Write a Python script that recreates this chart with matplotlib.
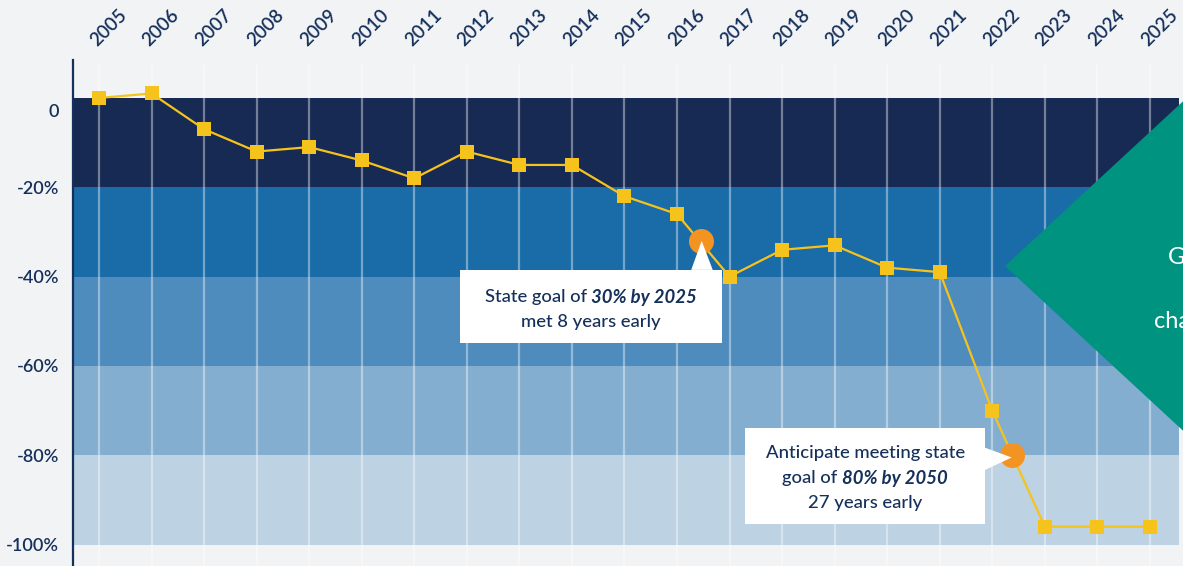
import matplotlib

matplotlib.use("Agg")

import matplotlib.pyplot as plt
from matplotlib.patches import Polygon, Rectangle
from matplotlib.transforms import ScaledTranslation

YEARS = list(range(2005, 2026))
CHANGE = [0, 1, -7, -12, -11, -14, -18, -12, -15, -15, -22, -26, -40, -34, -33, -38, -39, -70, -96, -96, -96]

# goal crossings drawn as orange dots (year, % change)
GOAL_DOTS_X = [2016.45, 2022.385]
GOAL_DOTS_Y = [-32, -80]

BAND_EDGES = [0, -20, -40, -60, -80, -100]
BAND_COLORS = ["#172a54", "#1a6ca8", "#4e8cbe", "#84aecf", "#bdd2e3"]

Y_TICKS = [0, -20, -40, -60, -80, -100]
Y_LABELS = ["0", "-20%", "-40%", "-60%", "-80%", "-100%"]

NAVY = "#15305a"
BG = "#f2f3f5"
YELLOW = "#f6c21c"
ORANGE = "#f39322"
TEAL = "#009380"
FONT = ["Lato", "DejaVu Sans"]

plt.rcParams["font.family"] = FONT

W, H = 1183, 566
fig = plt.figure(figsize=(W / 100, H / 100), dpi=100, facecolor=BG)
ax = fig.add_axes([73 / W, 0, 1 - 73 / W, 1 - 60 / H])
ax.set_facecolor(BG)
ax.set_xlim(2004.505, 2025.63)
ax.set_ylim(-104.8, 8.5)

for top, bottom, color in zip(BAND_EDGES[:-1], BAND_EDGES[1:], BAND_COLORS):
    ax.axhspan(bottom, top, xmin=0, xmax=0.9964, color=color, lw=0, zorder=1)

ax.vlines(YEARS, -110, 7.4, color="white", alpha=0.4, lw=1.6, zorder=2)

ax.plot(YEARS, CHANGE, color=YELLOW, lw=1.6, zorder=3,
        marker="s", markersize=9.5, markerfacecolor=YELLOW, markeredgewidth=0)
ax.plot(GOAL_DOTS_X, GOAL_DOTS_Y, "o", color=ORANGE, markersize=18, markeredgewidth=0, zorder=6)

# axes styling
for side in ["top", "right", "bottom"]:
    ax.spines[side].set_visible(False)
ax.spines["left"].set_color(NAVY)
ax.spines["left"].set_linewidth(1.6)
ax.spines["left"].set_zorder(5)

ax.xaxis.tick_top()
ax.set_xticks(YEARS)
ax.set_xticklabels([str(y) for y in YEARS], rotation=45, ha="left", rotation_mode="anchor",
                   fontsize=13.5, color=NAVY, fontweight="semibold")
ax.tick_params(axis="x", length=0, pad=8)
ax.set_yticks(Y_TICKS)
ax.set_yticklabels(Y_LABELS, fontsize=13, color=NAVY, fontweight="semibold")
ax.tick_params(axis="y", length=0, pad=10)
zero_label = ax.get_yticklabels()[0]
zero_label.set_transform(zero_label.get_transform() + ScaledTranslation(0, -0.13, fig.dpi_scale_trans))


def rich_line(x, y, parts, size=13.3):
    renderer = fig.canvas.get_renderer()
    texts, widths = [], []
    for s, bold in parts:
        t = ax.text(x, y, s, fontsize=size, color=NAVY, va="center", ha="left", zorder=8,
                    fontweight="bold" if bold else "medium",
                    fontstyle="italic" if bold else "normal")
        texts.append(t)
        widths.append(t.get_window_extent(renderer).width)
    offset = -sum(widths) / 2
    for t, w in zip(texts, widths):
        t.set_transform(ax.transData + ScaledTranslation(offset / fig.dpi, 0, fig.dpi_scale_trans))
        offset += w


# callout 1
ax.add_patch(Rectangle((2011.87, -54.9), 4.99, 16.4, facecolor="white", lw=0, zorder=7))
ax.add_patch(Polygon([(2016.27, -38.5), (2016.68, -38.5), (2016.47, -32)], closed=True,
                     facecolor="white", lw=0, zorder=7))
rich_line(2014.36, -44.6, [("State goal of ", False), ("30% by 2025", True)])
rich_line(2014.36, -50.2, [("met 8 years early", False)])

# callout 2
ax.add_patch(Rectangle((2017.29, -95.4), 4.57, 21.5, facecolor="white", lw=0, zorder=7))
ax.add_patch(Polygon([(2021.86, -78.3), (2021.86, -83.3), (2022.37, -80.5)], closed=True,
                     facecolor="white", lw=0, zorder=7))
rich_line(2019.58, -79.4, [("Anticipate meeting state", False)])
rich_line(2019.58, -85.2, [("goal of ", False), ("80% by 2050", True)])
rich_line(2019.58, -90.8, [("27 years early", False)])

# teal diamond at right edge
R = 240
cx, cy = 1005 + R, 266
pts = [(cx - R, cy), (cx, cy - 0.925 * R), (cx + R, cy), (cx, cy + 0.925 * R)]
fig.patches.append(Polygon([(px / W, 1 - py / H) for px, py in pts], closed=True,
                           transform=fig.transFigure, facecolor=TEAL, lw=0, zorder=10))
fig.text(1168 / W, 1 - 257 / H, "GHG emissions", color="white", fontsize=17, va="center", ha="left", zorder=11)
fig.text(1154 / W, 1 - 322 / H, "change", color="white", fontsize=17, va="center", ha="left", zorder=11)

fig.savefig("out.png", dpi=100, facecolor=BG)
